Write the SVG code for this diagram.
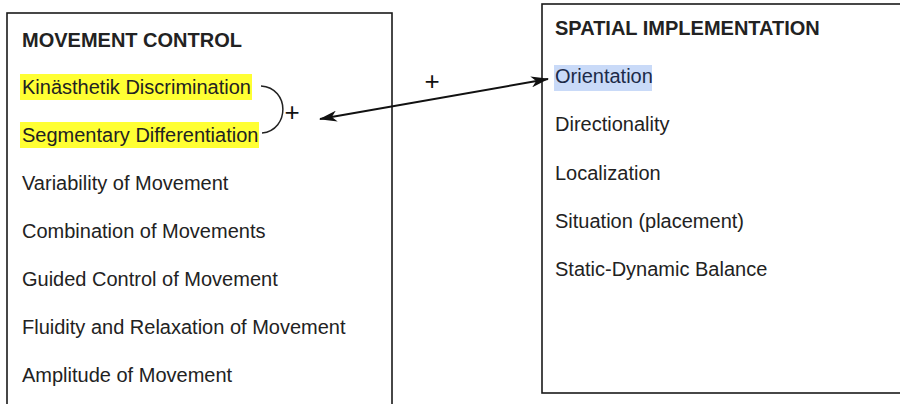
<svg xmlns="http://www.w3.org/2000/svg" width="900" height="404" viewBox="0 0 900 404">
<defs>
<style>
.box{fill:#fff;stroke:#1a1a1a;stroke-width:1.6}
.t{font-family:"Liberation Sans",Arial,sans-serif;font-size:20px;fill:#222}
.h{font-weight:bold}
.p{font-family:"Liberation Sans",Arial,sans-serif;font-size:26px;fill:#111;text-anchor:middle}
.conn{fill:none;stroke:#111;stroke-width:2}
.br{fill:none;stroke:#222;stroke-width:1.5}
</style>
<marker id="ah" viewBox="0 0 18 11" refX="17" refY="5.5" markerWidth="18" markerHeight="11" markerUnits="userSpaceOnUse" orient="auto-start-reverse">
<path d="M0,0 L18,5.5 L0,11 L5,5.5 Z" fill="#111"/>
</marker>
</defs>
<rect width="900" height="404" fill="#fff"/>
<g id="movement-control">
<rect class="box" x="7" y="13" width="385" height="400"/>
<rect x="20" y="74" width="232" height="26" fill="#ffff33"/>
<rect x="20" y="122" width="239" height="26" fill="#ffff33"/>
<text class="t h" x="22" y="47">MOVEMENT CONTROL</text>
<text class="t" x="22" y="94">Kinästhetik Discrimination</text>
<text class="t" x="22" y="142">Segmentary Differentiation</text>
<text class="t" x="22" y="190">Variability of Movement</text>
<text class="t" x="22" y="238">Combination of Movements</text>
<text class="t" x="22" y="286">Guided Control of Movement</text>
<text class="t" x="22" y="334">Fluidity and Relaxation of Movement</text>
<text class="t" x="22" y="382">Amplitude of Movement</text>
</g>
<g id="spatial-implementation">
<rect class="box" x="542" y="4" width="370" height="389"/>
<rect x="554" y="65" width="98" height="26" fill="#c9daf8"/>
<text class="t h" x="555" y="35">SPATIAL IMPLEMENTATION</text>
<text class="t" x="555" y="83" style="fill:#1c2a48">Orientation</text>
<text class="t" x="555" y="131">Directionality</text>
<text class="t" x="555" y="180">Localization</text>
<text class="t" x="555" y="228">Situation (placement)</text>
<text class="t" x="555" y="276">Static-Dynamic Balance</text>
</g>
<g id="connectors">
<path class="br" d="M261,86 C290,88 290,130 262,133"/>
<text class="p" x="292" y="121">+</text>
<line class="conn" x1="320" y1="119" x2="548" y2="79" marker-start="url(#ah)" marker-end="url(#ah)"/>
<text class="p" x="432" y="90">+</text>
</g>
</svg>
